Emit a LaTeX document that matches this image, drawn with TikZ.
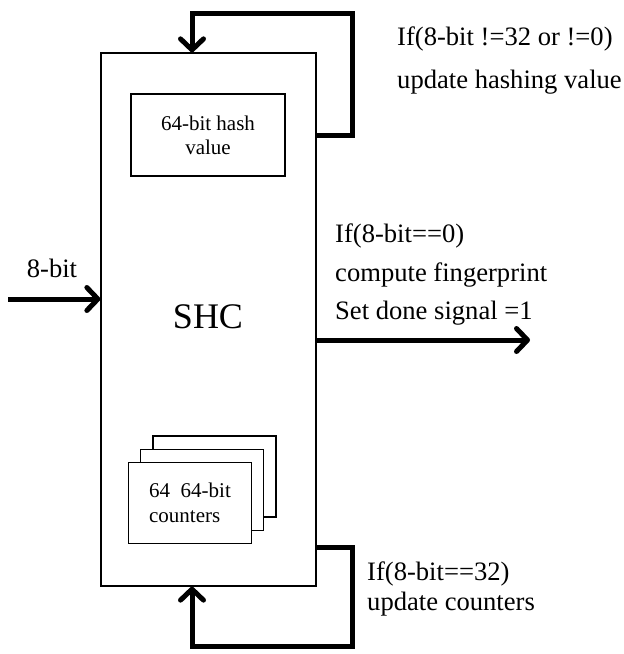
\documentclass[tikz,border=0pt]{standalone}
\usepackage{fontspec}
\setmainfont{Liberation Serif}
\usetikzlibrary{arrows.meta}
\begin{document}
\begin{tikzpicture}[x=1pt,y=-1pt,
  box/.style={draw,line width=1.3pt,fill=white,inner sep=0pt},
  flow/.style={line width=5pt,line join=miter,
    -{Straight Barb[length=11pt,width=23pt,round]},
    preaction={draw=black!22,transform canvas={shift={(1.5pt,-1.8pt)}}}},
  lbl/.style={align=left,inner sep=0pt,anchor=north west}]
\useasboundingbox (0,0) rectangle (624,654);
% main block
\node[box,minimum width=215pt,minimum height=533pt] (shc) at (208.5,319.5) {};
\node[font=\fontsize{36}{40}\selectfont,anchor=base,inner sep=0pt] (shclab) at (208,328) {SHC};
% hash box
\node[box,minimum width=154pt,minimum height=82pt,align=center,
      font=\fontsize{21}{24}\selectfont] (hash) at (208,135) {64-bit hash\\value};
% counters stack
\node[box,minimum width=123pt,minimum height=81pt] (c3) at (214.5,476.5) {};
\node[box,minimum width=123pt,minimum height=81pt] (c2) at (202,490) {};
\node[box,minimum width=123pt,minimum height=81pt,align=left,
      font=\fontsize{21}{25}\selectfont] (c1) at (190,503) {64~~64-bit\\counters};
% coordinates for connectors
\coordinate (tr) at (352,13);
\coordinate (tl) at (192,13);
\coordinate (bsy) at (0,547);
\coordinate (br) at (352,646);
\coordinate (bl) at (192,646);
\coordinate (in) at (8,299);
\coordinate (out) at (530,340);
% connectors
\draw[flow] (shc.east |- hash.east) -| (tr) -- (tl) -- (tl |- shc.north);
\draw[flow] (shc.east |- bsy) -| (br) -- (bl) -- (bl |- shc.south);
\draw[flow] (in) -- (shc.west |- in);
\draw[flow] (shc.east |- out) -- (out);
% labels
\node[lbl,font=\fontsize{26.6}{43}\selectfont] (tlab) at (397,27) {If(8-bit !=32 or !=0)\\update hashing value};
\node[lbl,font=\fontsize{26.6}{38.5}\selectfont] (mlab) at (335,224) {If(8-bit==0)\\compute fingerprint\\Set done signal =1};
\node[lbl,font=\fontsize{26.6}{30}\selectfont] (blab) at (367,562) {If(8-bit==32)\\update counters};
\node[font=\fontsize{26.6}{30}\selectfont,anchor=base,inner sep=0pt] (inlab) at (52,277) {8-bit};
\end{tikzpicture}
\end{document}
